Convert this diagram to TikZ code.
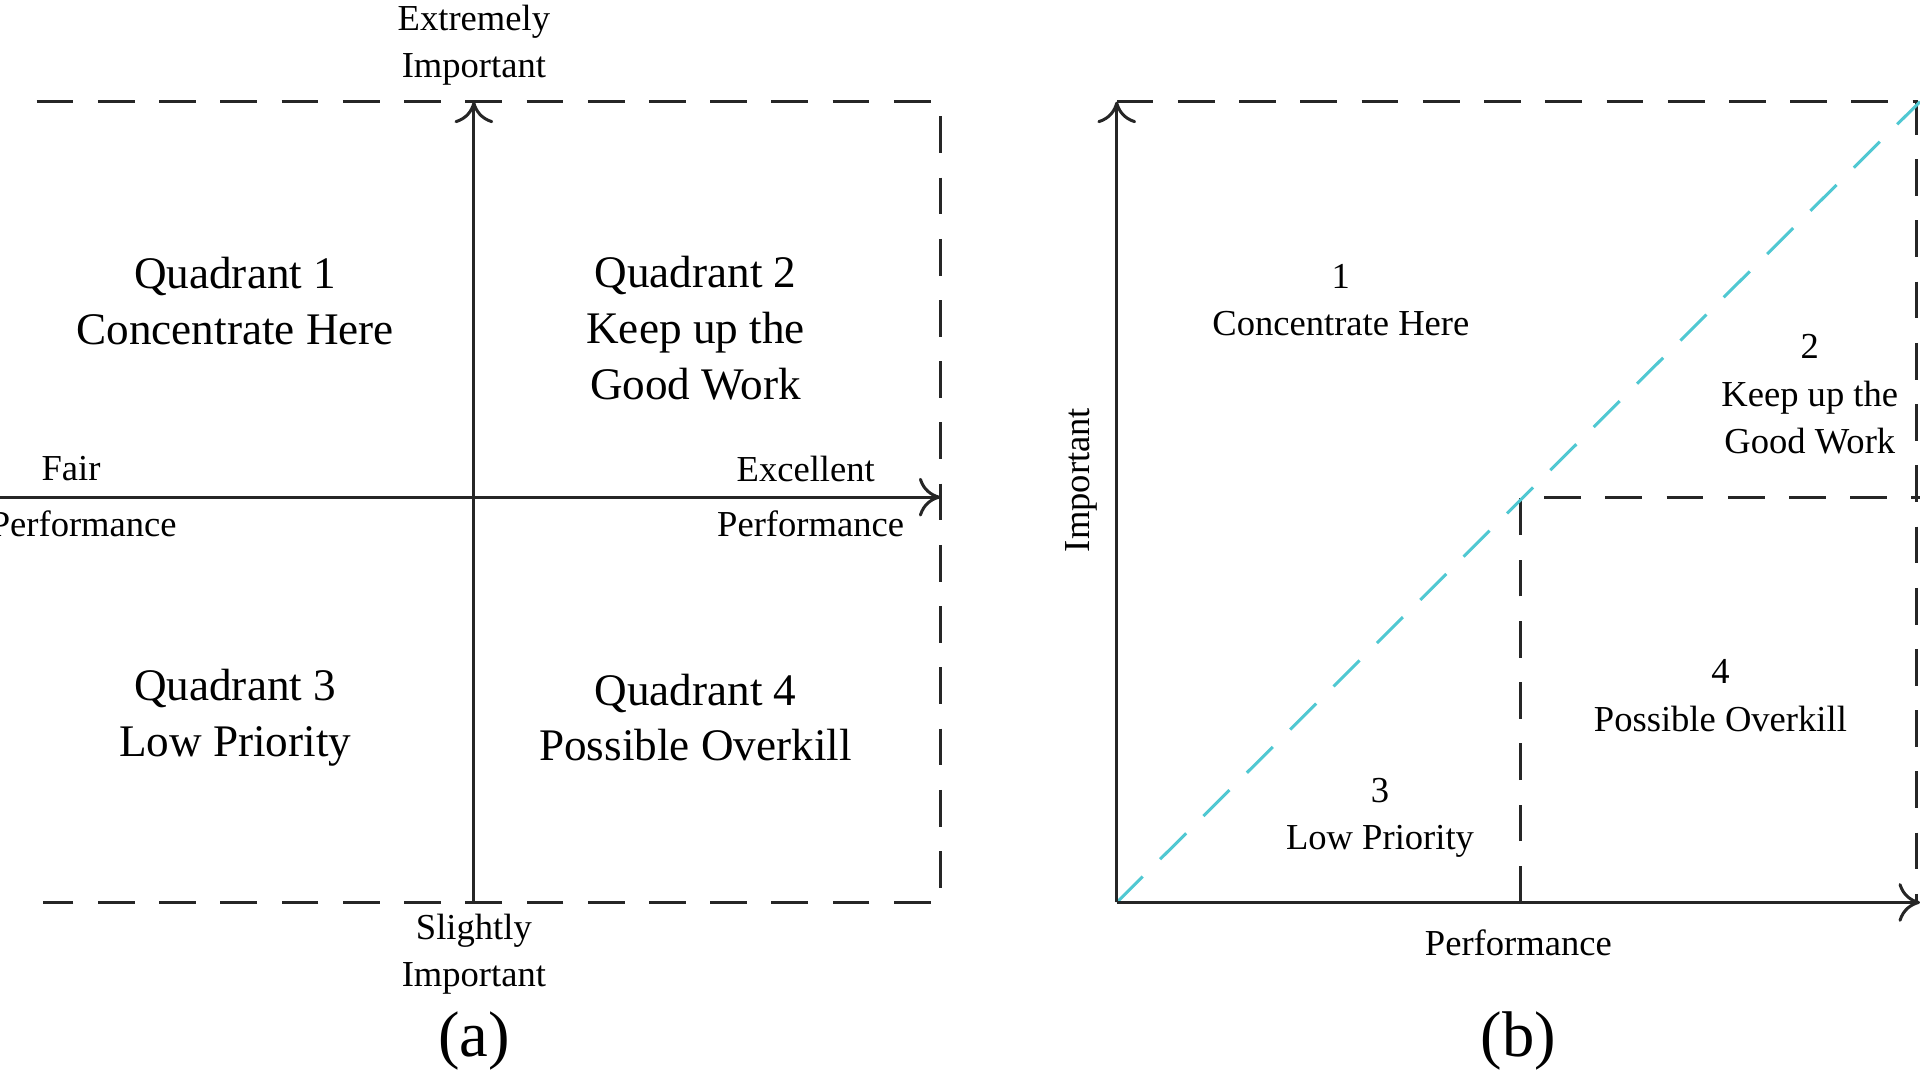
\documentclass[tikz,border=0pt]{standalone}
\usepackage{fontspec}
\setmainfont{Liberation Serif}
\usetikzlibrary{arrows.meta,positioning}
\definecolor{diagcyan}{RGB}{80,200,210}
\begin{document}
\begin{tikzpicture}[auto, >={To[length=5pt,width=9pt]}, line width=0.7pt,
    linie/.style={draw=black!85},
    punctat/.style={draw=black!85, dash pattern=on 0.3cm off 0.2cm},
    cadran/.style={align=center, font=\fontsize{10.5}{13}\selectfont},
    eticheta/.style={align=center, font=\fontsize{8.5}{11}\selectfont},
    titlu/.style={font=\fontsize{15}{18}\selectfont}]
  \useasboundingbox (0,0) rectangle (15.68,8.82);

  % Puncte pentru (a)
  \coordinate (a_sus) at (3.87,7.99);
  \coordinate (a_jos) at (3.87,1.45);
  \coordinate (a_st) at (0,4.76);
  \coordinate (a_dr) at (7.68,4.76);

  % Cadran (a)
  \draw [punctat] (0.30,7.99) -- (7.68,7.99) -- (7.68,1.45) -- (0.35,1.45);
  \draw [linie,->] (a_jos) -- (a_sus);
  \draw [linie,->] (a_st) -- (a_dr);

  \node [eticheta] (extrem) at (3.87,8.45) {Extremely\\Important};
  \node [eticheta] (usor) at (3.87,1.03) {Slightly\\Important};
  \node [eticheta] (slab) at (0.58,4.99) {Fair};
  \node [eticheta] (perf_st) at (0.68,4.54) {Performance};
  \node [eticheta] (excelent) at (6.58,4.99) {Excellent};
  \node [eticheta] (perf_dr) at (6.62,4.54) {Performance};

  \node [cadran] (q1) at (1.92,6.36) {Quadrant 1\\Concentrate Here};
  \node [cadran] (q2) at (5.68,6.14) {Quadrant 2\\Keep up the\\Good Work};
  \node [cadran] (q3) at (1.92,2.96) {Quadrant 3\\Low Priority};
  \node [cadran] (q4) at (5.68,2.96) {Quadrant 4\\Possible Overkill};
  \node [titlu] (lit_a) at (3.87,0.32) {(a)};

  % Puncte pentru (b)
  \coordinate (b_orig) at (9.12,1.45);
  \coordinate (b_sus) at (9.12,7.99);
  \coordinate (b_dr) at (15.68,1.45);
  \coordinate (b_colt) at (15.68,7.99);
  \coordinate (b_mij) at (12.42,4.76);

  % Cadran (b)
  \draw [punctat] (9.12,7.99) -- (15.65,7.99) -- (15.65,1.45);
  \draw [punctat] (12.42,1.45) -- (b_mij) -- (15.68,4.76);
  \draw [dash pattern=on 0.3cm off 0.2cm, draw=diagcyan] (b_orig) -- (b_colt);
  \draw [linie,->] (b_orig) -- (b_sus);
  \draw [linie,->] (b_orig) -- (b_dr);

  \node [eticheta, rotate=90] (important) at (8.83,4.90) {Important};
  \node [eticheta] (performanta) at (12.40,1.12) {Performance};
  \node [eticheta] (b1) at (10.95,6.37) {1\\Concentrate Here};
  \node [eticheta] (b2) at (14.78,5.60) {2\\Keep up the\\Good Work};
  \node [eticheta] (b3) at (11.27,2.14) {3\\Low Priority};
  \node [eticheta] (b4) at (14.05,3.14) {4\\Possible Overkill};
  \node [titlu] (lit_b) at (12.40,0.32) {(b)};
\end{tikzpicture}
\end{document}
